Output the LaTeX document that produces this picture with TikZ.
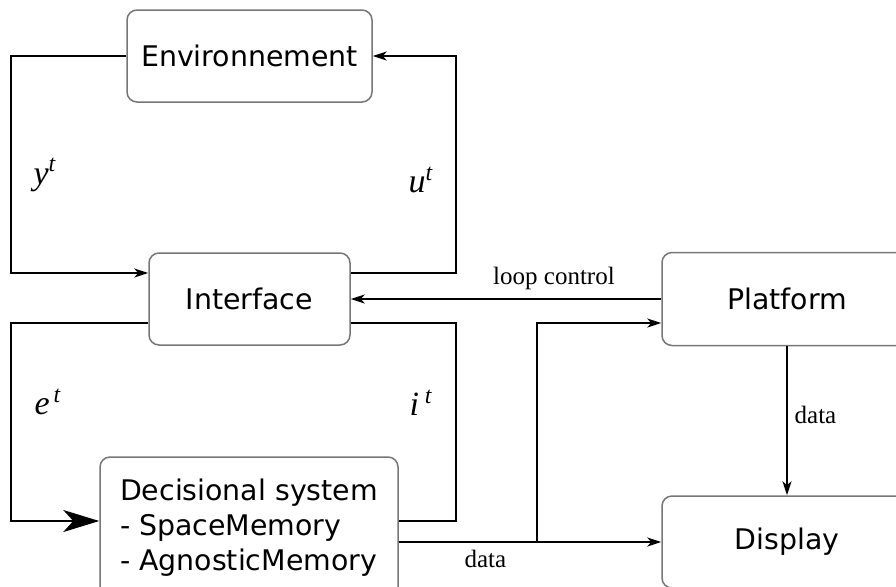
\documentclass[tikz,border=0pt]{standalone}
\usepackage{fontspec}
\setmainfont{Liberation Serif}
\setsansfont{DejaVu Sans}
\usepackage{tikz}
\usetikzlibrary{arrows.meta,positioning,calc}
\definecolor{boxgray}{RGB}{118,118,118}

\tikzset{
  block/.style={draw=boxgray, line width=0.75pt, rounded corners=5pt, inner sep=0pt,
    font=\sffamily\fontsize{14.2}{17.5}\selectfont},
  link/.style={line width=1pt, -{Stealth[length=7pt,width=4.5pt,inset=2pt]}},
  biglink/.style={line width=1pt, -{Stealth[length=18pt,width=11pt,inset=5pt]}},
  wire/.style={line width=1pt},
  sig/.style={font=\fontsize{17}{20}\selectfont\itshape},
  lbl/.style={font=\fontsize{12.5}{15}\selectfont},
}

\begin{document}
\begin{tikzpicture}[x=0.5pt, y=-0.5pt]
  \useasboundingbox (0,0) rectangle (896,586);
  \clip (0,0) rectangle (896,586);

  % Blocks
  \node[block, minimum width=122.5pt, minimum height=46pt] (env) at (249.5,56) {Environnement};
  \node[block, minimum width=100.5pt, minimum height=46pt] (interface) at (249.5,299) {Interface};
  \node[block, minimum width=149pt, minimum height=71pt, align=left] (decision) at (249,528)
    {Decisional system\\- SpaceMemory\\- AgnosticMemory};
  \node[block, minimum width=125pt, minimum height=46.5pt] (platform) at (787,299) {Platform};
  \node[block, minimum width=125pt, minimum height=46pt] (display) at (787,542) {Display};

  % Environment loop
  \draw[link] (env.west) -- ++(-115,0) |- ($(interface.west)+(0,-26)$);
  \draw[link] ($(interface.east)+(0,-26)$) -- ++(105,0) |- (env.east);
  \node[sig] (yt) at (45,175) {y\textsuperscript{t}};
  \node[sig] (ut) at (421,180) {u\textsuperscript{t}};

  % Decision loop
  \draw[biglink] ($(interface.west)+(0,24)$) -- ++(-137,0) |- ($(decision.west)+(0,-7)$);
  \draw[wire] ($(decision.east)+(0,-7)$) -- ++(57,0) |- ($(interface.east)+(0,24)$);
  \node[sig] (et) at (48,402) {e\textsuperscript{\,t}};
  \node[sig] (it) at (421,403) {i\,\textsuperscript{t}};

  % Platform and display
  \draw[link] (platform.west) -- (interface.east)
    node[lbl, midway, above=1pt, xshift=24pt] {loop control};
  \draw[link] (decision.east |- display.west) -- (display.west)
    node[lbl, pos=0.33, below=0pt] {data};
  \coordinate (split) at (537,542);
  \draw[link] (split) |- ($(platform.west)+(0,24)$);
  \draw[link] (platform.south) -- (display.north)
    node[lbl, pos=0.46, right=0pt] {data};
\end{tikzpicture}
\end{document}
